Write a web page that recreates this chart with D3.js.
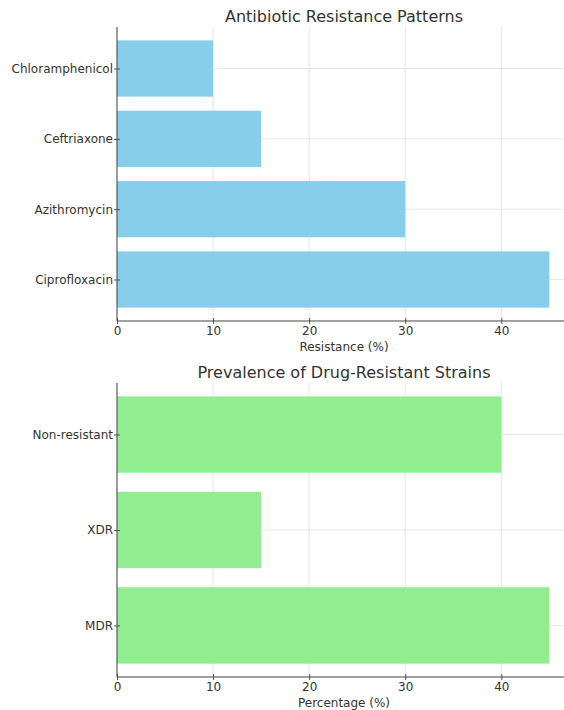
<!DOCTYPE html>
<html><head><meta charset="utf-8">
<script src="https://cdn.jsdelivr.net/npm/d3@7"></script>
<style>body{margin:0;background:#fff}svg{display:block}text{font-family:"DejaVu Sans",sans-serif;fill:#333}</style>
</head><body><svg id="c" width="564" height="710"></svg>
<script>
const drugs = ["Ciprofloxacin","Azithromycin","Ceftriaxone","Chloramphenicol"];
const resistance = [45, 30, 15, 10];
const strains = ["MDR","XDR","Non-resistant"];
const prevalence = [45, 15, 40];
const xTicks = [0,10,20,30,40];

const svg = d3.select("#c");

function panel(cfg){
  const {cats, vals, color, top, bottom, title, xlabel} = cfg;
  const left = 117, right = 571;
  const n = cats.length;
  const x = d3.scaleLinear().domain([0, d3.max(vals)*1.05]).range([left, right]);
  const lo = -0.4 - 0.05*(n-1+0.8), hi = n-1+0.4 + 0.05*(n-1+0.8);
  const y = d3.scaleLinear().domain([lo, hi]).range([bottom, top]);
  const g = svg.append("g");
  // grid
  g.selectAll(".gx").data(xTicks).join("line")
    .attr("x1", d=>x(d)).attr("x2", d=>x(d)).attr("y1", top).attr("y2", bottom)
    .attr("stroke", "#e6e6e6").attr("stroke-width", 1);
  g.selectAll(".gy").data(cats).join("line")
    .attr("x1", left).attr("x2", 564).attr("y1", (d,i)=>y(i)).attr("y2", (d,i)=>y(i))
    .attr("stroke", "#e6e6e6").attr("stroke-width", 1);
  // bars
  g.selectAll(".bar").data(vals).join("rect")
    .attr("x", x(0)).attr("y", (d,i)=>y(i+0.4))
    .attr("width", d=>x(d)-x(0)).attr("height", (d,i)=>y(i-0.4)-y(i+0.4))
    .attr("fill", color);
  // x axis
  const xa = g.append("g").attr("transform", `translate(0,${bottom})`)
    .call(d3.axisBottom(x).tickValues(xTicks).tickSize(3).tickPadding(2).tickFormat(d3.format("d")));
  xa.select(".domain").remove();
  xa.selectAll(".tick line").attr("stroke", "#555").attr("y1", -3);
  xa.selectAll("text").attr("font-size", 12).style("fill", "#333");
  // y axis
  const ya = g.append("g").attr("transform", `translate(${left},0)`)
    .call(d3.axisLeft(y).tickValues(d3.range(n)).tickSize(3).tickPadding(1).tickFormat(i=>cats[i]));
  ya.select(".domain").remove();
  ya.selectAll(".tick line").attr("stroke", "#555").attr("x1", 3);
  ya.selectAll("text").attr("font-size", 12).style("fill", "#333");
  // spines
  g.append("line").attr("x1", left).attr("x2", left).attr("y1", top).attr("y2", bottom)
    .attr("stroke", "#444").attr("stroke-width", 1);
  g.append("line").attr("x1", left).attr("x2", 564).attr("y1", bottom).attr("y2", bottom)
    .attr("stroke", "#444").attr("stroke-width", 1);
  // title & label
  g.append("text").attr("x", (left+right)/2).attr("y", top-5).attr("text-anchor", "middle")
    .attr("font-size", 16).text(title);
  g.append("text").attr("x", (left+right)/2).attr("y", bottom+30).attr("text-anchor", "middle")
    .attr("font-size", 12).text(xlabel);
}

panel({cats: drugs, vals: resistance, color: "#87ceeb", top: 27, bottom: 321,
  title: "Antibiotic Resistance Patterns", xlabel: "Resistance (%)"});
panel({cats: strains, vals: prevalence, color: "#90ee90", top: 383, bottom: 677,
  title: "Prevalence of Drug-Resistant Strains", xlabel: "Percentage (%)"});
</script></body></html>
